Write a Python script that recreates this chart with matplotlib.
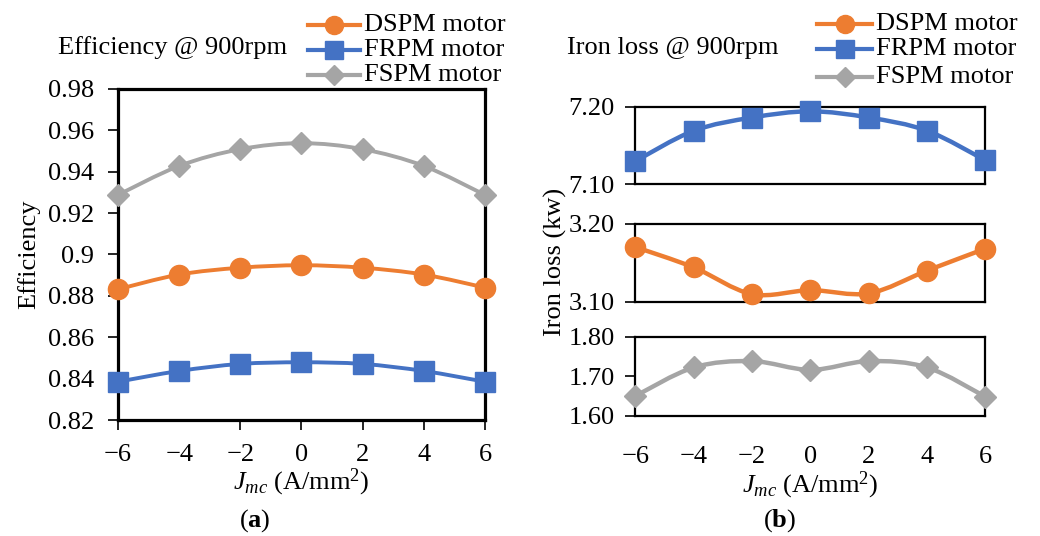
import numpy as np
import matplotlib
matplotlib.use("Agg")
import matplotlib.pyplot as plt
from matplotlib.path import Path
from matplotlib.patches import PathPatch
from matplotlib.lines import Line2D

plt.rcParams['font.family'] = ['Liberation Serif', 'DejaVu Serif']
plt.rcParams['mathtext.fontset'] = 'custom'
plt.rcParams['mathtext.rm'] = 'Liberation Serif'
plt.rcParams['mathtext.it'] = 'Liberation Serif:italic'
plt.rcParams['mathtext.bf'] = 'Liberation Serif:bold'

# data
jmc = [-6, -4, -2, 0, 2, 4, 6]
jmc_labels = ["\u22126", "\u22124", "\u22122", "0", "2", "4", "6"]
motors = ["DSPM motor", "FRPM motor", "FSPM motor"]

eff_dspm = [0.8832, 0.8903, 0.8936, 0.8948, 0.8936, 0.8903, 0.8840]
eff_frpm = [0.8385, 0.8437, 0.8471, 0.8479, 0.8471, 0.8437, 0.8385]
eff_fspm = [0.9288, 0.9428, 0.9509, 0.9538, 0.9509, 0.9428, 0.9288]

loss_dspm = [3.170, 3.144, 3.110, 3.115, 3.111, 3.140, 3.168]
loss_frpm = [7.130, 7.169, 7.186, 7.194, 7.186, 7.169, 7.131]
loss_fspm = [1.650, 1.722, 1.738, 1.716, 1.738, 1.722, 1.648]

eff_ticks = [0.82, 0.84, 0.86, 0.88, 0.9, 0.92, 0.94, 0.96, 0.98]
eff_labels = ["0.82", "0.84", "0.86", "0.88", "0.9", "0.92", "0.94", "0.96", "0.98"]

colors = ["#ED7D31", "#4472C4", "#A5A5A5"]
markers = ["o", "s", "D"]
msizes = [14.5, 14, 11.5]
FS = 19
W, H = 1040, 536


def smooth(ax, x, y, color, lw):
    # Excel-style smoothed line: cubic bezier through the points
    x = np.asarray(x, float)
    y = np.asarray(y, float)
    pts = np.column_stack([x, y])
    verts = [pts[0]]
    codes = [Path.MOVETO]
    n = len(pts)
    for i in range(n - 1):
        p0 = pts[i - 1] if i > 0 else pts[i]
        p1 = pts[i]
        p2 = pts[i + 1]
        p3 = pts[i + 2] if i + 2 < n else pts[i + 1]
        c1 = p1 + (p2 - p0) / 6.0
        c2 = p2 - (p3 - p1) / 6.0
        verts += [c1, c2, p2]
        codes += [Path.CURVE4] * 3
    ax.add_patch(PathPatch(Path(verts, codes), facecolor="none",
                           edgecolor=color, lw=lw, zorder=2))


def series(ax, y, k, lw=2.8):
    smooth(ax, jmc, y, colors[k], lw)
    ax.plot(jmc, y, ls="none", marker=markers[k], ms=msizes[k],
            color=colors[k], zorder=3, clip_on=False)


def legend(x0, x1, xt, rows):
    # hand-placed legend, pixel positions from the top-left corner
    for k, yp in enumerate(rows):
        y = 1 - yp / H
        fig.add_artist(Line2D([x0 / W, x1 / W], [y, y], color=colors[k], lw=3.0,
                              transform=fig.transFigure))
        fig.add_artist(Line2D([(x0 + x1) / 2 / W], [y], color=colors[k],
                              marker=markers[k], ms=msizes[k] - 1.5, ls="none",
                              transform=fig.transFigure))
        fig.text(xt / W, y, motors[k], fontsize=FS, ha="left", va="center")


fig = plt.figure(figsize=(10.4, 5.36), dpi=100)

# (a) efficiency
ax = fig.add_axes([0.1135, 0.2164, 0.3528, 0.6176])
series(ax, eff_fspm, 2)
series(ax, eff_dspm, 0)
series(ax, eff_frpm, 1)
ax.set_xlim(-6, 6)
ax.set_ylim(0.82, 0.98)
ax.set_yticks(eff_ticks)
ax.set_yticklabels(eff_labels)
ax.set_xticks(jmc)
ax.set_xticklabels(jmc_labels)
ax.xaxis.get_major_ticks()[1].tick1line.set_visible(False)
for s in ax.spines.values():
    s.set_linewidth(2.3)
ax.tick_params(direction="out", length=7, width=1.2, labelsize=FS)
ax.tick_params(axis="x", pad=10)
ax.tick_params(axis="y", pad=10)
ax.set_ylabel("Efficiency", fontsize=FS, labelpad=6)
ax.set_xlabel(r"$J_{mc}$ (A/mm$^2$)", fontsize=FS, labelpad=1)
fig.text(58 / W, 1 - 48 / H, "Efficiency @ 900rpm", fontsize=FS, ha="left", va="center")
legend(308, 360, 364, [25, 50, 75])
fig.text(255 / W, 1 - 521 / H, r"($\mathbf{a}$)", fontsize=FS, ha="center", va="center")

# (b) iron loss, three stacked panels
right_axes = [
    ([0.611, 0.656, 0.3365, 0.145], loss_frpm, 1, (7.10, 7.20), [7.10, 7.20]),
    ([0.611, 0.4366, 0.3365, 0.1464], loss_dspm, 0, (3.10, 3.20), [3.10, 3.20]),
    ([0.611, 0.2244, 0.3365, 0.1476], loss_fspm, 2, (1.60, 1.80), [1.60, 1.70, 1.80]),
]
for rect, vals, k, lim, ticks in right_axes:
    a = fig.add_axes(rect)
    series(a, vals, k, lw=3.2)
    a.set_xlim(-6, 6)
    a.set_ylim(*lim)
    a.set_yticks(ticks)
    a.set_yticklabels([f"{t:.2f}" for t in ticks])
    for s in a.spines.values():
        s.set_linewidth(1.6)
    a.tick_params(axis="y", direction="out", length=7, width=1.2, labelsize=FS, pad=8)
    a.tick_params(axis="x", length=0, labelsize=FS, pad=22)
    if k == 2:
        a.set_xticks(jmc)
        a.set_xticklabels(jmc_labels)
        a.set_xlabel(r"$J_{mc}$ (A/mm$^2$)", fontsize=FS, labelpad=1)
    else:
        a.set_xticks([])

fig.text(555 / W, 1 - 262 / H, "Iron loss (kw)", fontsize=FS, rotation=90,
         ha="center", va="center")
fig.text(567 / W, 1 - 48 / H, "Iron loss @ 900rpm", fontsize=FS, ha="left", va="center")
legend(817, 872, 876, [24, 49, 77])
fig.text(780 / W, 1 - 521 / H, r"($\mathbf{b}$)", fontsize=FS, ha="center", va="center")

fig.savefig("out.png", dpi=100)
